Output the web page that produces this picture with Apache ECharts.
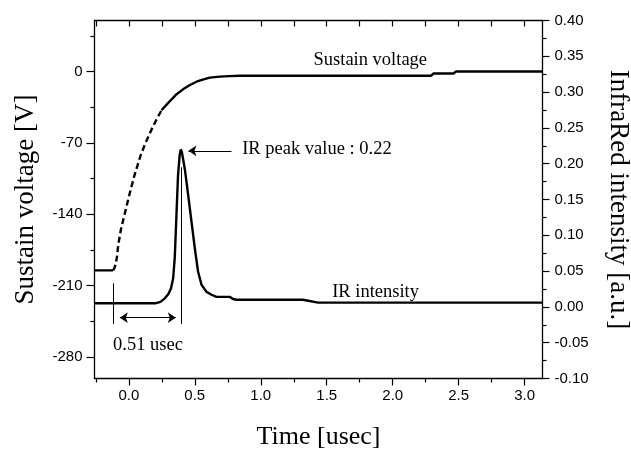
<!DOCTYPE html>
<html>
<head>
<meta charset="utf-8">
<script src="https://cdn.jsdelivr.net/npm/echarts@6/dist/echarts.min.js"></script>
<style>
  html, body { margin: 0; padding: 0; background: #fff; }
  #chart { width: 631px; height: 452px; }
</style>
</head>
<body>
<div id="chart"></div>
<script>
// sustain voltage [V] -- flat part, dashed rise, solid tail
const sustainLeadTime = [-0.26, -0.119];
const sustainLeadVolt = [-195, -195];
const sustainRiseTime = [-0.119, -0.11, -0.1, -0.09, -0.08, -0.06, -0.03, 0.0, 0.04, 0.09, 0.13, 0.172, 0.21, 0.248];
const sustainRiseVolt = [-195, -193, -189, -182, -170, -155, -139, -123, -103, -82, -69, -57, -47, -38];
const sustainTailTime = [0.248, 0.29, 0.323, 0.36, 0.411, 0.46, 0.513, 0.56, 0.614, 0.69, 0.76, 0.84, 2.29, 2.31, 2.46, 2.48, 3.135];
const sustainTailVolt = [-38, -32, -27.5, -22.5, -17.5, -13.5, -10, -8, -6, -5, -4.5, -4.2, -4.2, -2, -2, 0, 0];

// IR intensity [a.u.]
const irTime = [-0.26, 0.2, 0.24, 0.273, 0.3, 0.32, 0.336, 0.348, 0.361, 0.373, 0.386, 0.394, 0.402, 0.411, 0.424, 0.437, 0.456, 0.475, 0.5, 0.525, 0.551, 0.589, 0.627, 0.664, 0.765, 0.79, 0.816, 1.32, 1.434, 3.135];
const irValue = [0.005, 0.005, 0.007, 0.012, 0.018, 0.026, 0.04, 0.068, 0.128, 0.184, 0.213, 0.22, 0.216, 0.207, 0.193, 0.175, 0.147, 0.119, 0.082, 0.049, 0.031, 0.021, 0.017, 0.014, 0.014, 0.011, 0.01, 0.01, 0.006, 0.006];

// tick positions
const timeMajorTicks = [0, 0.5, 1, 1.5, 2, 2.5, 3];
const timeMinorTicks = [-0.25, 0.25, 0.75, 1.25, 1.75, 2.25, 2.75];
const voltMajorTicks = [0, -70, -140, -210, -280];
const voltMinorTicks = [35, -35, -105, -175, -245];

// annotations
const peakMarkTime = 0.394;
const startMarkTime = -0.119;

const pairs = (xs, ys) => xs.map((x, i) => [x, ys[i]]);

const chart = echarts.init(document.getElementById('chart'));

const black = '#000';
const serif = 'Liberation Serif';
const sans = 'Liberation Sans';

const curveStyle = { color: black, width: 2.4 };
const lineOpts = { show: true, onZero: false, lineStyle: { color: black, width: 1.3 } };
const tickStyle = { color: black, width: 1.2 };
const noteText = {
  show: true, formatter: '{b}', color: black, fontFamily: serif, fontSize: 18.5,
  textBorderWidth: 0, textShadowBlur: 0, opacity: 1
};

const option = {
  animation: false,
  grid: { left: 94.5, right: 88.5, top: 20.5, bottom: 73.5, outerBoundsMode: 'none' },
  xAxis: [
    {
      type: 'value', min: -0.26, max: 3.135, position: 'bottom',
      name: 'Time [usec]', nameLocation: 'middle', nameGap: 46,
      nameTextStyle: { fontFamily: serif, fontSize: 26, color: black },
      axisLine: lineOpts,
      axisTick: { show: true, inside: false, length: 7, customValues: timeMajorTicks, lineStyle: tickStyle },
      axisLabel: { show: true, margin: 10, customValues: timeMajorTicks, color: black, fontFamily: sans, fontSize: 15,
        formatter: (v) => v.toFixed(1) },
      splitLine: { show: false }
    },
    {
      // bottom minor ticks
      type: 'value', min: -0.26, max: 3.135, position: 'bottom',
      axisLine: { show: false, onZero: false },
      axisTick: { show: true, inside: false, length: 4, customValues: timeMinorTicks, lineStyle: tickStyle },
      axisLabel: { show: false },
      splitLine: { show: false }
    },
    {
      // top frame with inward ticks
      type: 'value', min: -0.26, max: 3.135, position: 'top',
      axisLine: lineOpts,
      axisTick: { show: true, inside: true, length: 6, customValues: timeMinorTicks.concat(timeMajorTicks), lineStyle: tickStyle },
      axisLabel: { show: false },
      splitLine: { show: false }
    }
  ],
  yAxis: [
    {
      type: 'value', min: -301, max: 50, position: 'left',
      name: 'Sustain voltage [V]', nameLocation: 'middle', nameGap: 55,
      nameTextStyle: { fontFamily: serif, fontSize: 27, color: black },
      axisLine: lineOpts,
      axisTick: { show: true, inside: false, length: 8, customValues: voltMajorTicks, lineStyle: tickStyle },
      axisLabel: { show: true, margin: 12, customValues: voltMajorTicks, color: black, fontFamily: sans, fontSize: 15 },
      splitLine: { show: false }
    },
    {
      type: 'value', min: -0.1, max: 0.4, interval: 0.05, position: 'right',
      name: 'InfraRed intensity [a.u.]', nameLocation: 'middle', nameGap: 62, nameRotate: -90,
      nameTextStyle: { fontFamily: serif, fontSize: 27, color: black },
      axisLine: lineOpts,
      axisTick: { show: true, inside: false, length: 7, lineStyle: tickStyle },
      minorTick: { show: true, splitNumber: 2, length: 4, lineStyle: tickStyle },
      axisLabel: { show: true, margin: 12, color: black, fontFamily: sans, fontSize: 15,
        formatter: (v) => v.toFixed(2) },
      splitLine: { show: false },
      minorSplitLine: { show: false }
    },
    {
      // left minor ticks
      type: 'value', min: -301, max: 50, position: 'left',
      axisLine: { show: false, onZero: false },
      axisTick: { show: true, inside: false, length: 4, customValues: voltMinorTicks, lineStyle: tickStyle },
      axisLabel: { show: false },
      splitLine: { show: false }
    }
  ],
  series: [
    {
      name: 'Sustain lead', type: 'line', xAxisIndex: 0, yAxisIndex: 0,
      data: pairs(sustainLeadTime, sustainLeadVolt),
      showSymbol: false, lineStyle: curveStyle
    },
    {
      name: 'Sustain rise', type: 'line', xAxisIndex: 0, yAxisIndex: 0,
      data: pairs(sustainRiseTime, sustainRiseVolt),
      showSymbol: false, lineStyle: { ...curveStyle, type: [6, 3.5] }
    },
    {
      name: 'Sustain voltage', type: 'line', xAxisIndex: 0, yAxisIndex: 0,
      data: pairs(sustainTailTime, sustainTailVolt),
      showSymbol: false, lineStyle: curveStyle
    },
    {
      name: 'IR intensity', type: 'line', xAxisIndex: 0, yAxisIndex: 1,
      data: pairs(irTime, irValue),
      showSymbol: false, lineStyle: curveStyle,
      markLine: {
        silent: true,
        symbol: ['none', 'none'],
        symbolSize: 8,
        label: { show: false },
        lineStyle: { color: black, width: 1, type: 'solid', opacity: 1 },
        data: [
          [{ coord: [0.778, 0.218], symbol: 'none' }, { coord: [0.452, 0.218], symbol: 'arrow' }],
          [{ coord: [startMarkTime, 0.033] }, { coord: [startMarkTime, -0.024] }],
          [{ coord: [peakMarkTime, 0.195] }, { coord: [peakMarkTime, -0.024] }],
          [{ coord: [-0.068, -0.015], symbol: 'arrow' }, { coord: [0.356, -0.015], symbol: 'arrow' }]
        ]
      }
    },
    {
      type: 'scatter', xAxisIndex: 0, yAxisIndex: 0, symbolSize: 0, silent: true,
      itemStyle: { opacity: 1 },
      data: [{ value: [1.83, 10.8], name: 'Sustain voltage' }],
      label: { ...noteText, position: 'inside' }
    },
    {
      type: 'scatter', xAxisIndex: 0, yAxisIndex: 1, symbolSize: 0, silent: true,
      itemStyle: { opacity: 1 },
      data: [{ value: [1.87, 0.0207], name: 'IR intensity' }],
      label: { ...noteText, position: 'inside' }
    },
    {
      type: 'scatter', xAxisIndex: 0, yAxisIndex: 1, symbolSize: 0, silent: true,
      itemStyle: { opacity: 1 },
      data: [
        { value: [0.859, 0.2197], name: 'IR peak value : 0.22' },
        { value: [startMarkTime, -0.054], name: '0.51 usec' }
      ],
      label: { ...noteText, position: 'right', distance: 0 }
    }
  ]
};

chart.setOption(option);
</script>
</body>
</html>
